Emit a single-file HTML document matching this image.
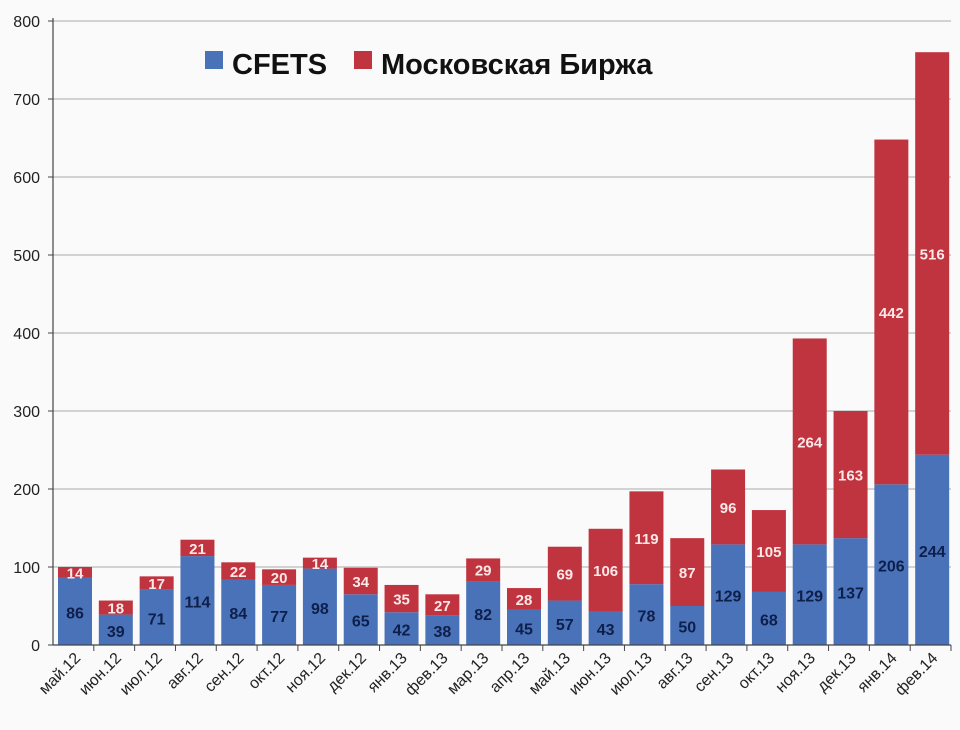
<!DOCTYPE html>
<html><head><meta charset="utf-8"><style>
html,body{margin:0;padding:0;background:#fff;}
svg{display:block;font-family:"Liberation Sans",sans-serif;}
</style></head><body>
<svg id="chart" width="960" height="730">
<rect x="0" y="0" width="960" height="730" fill="#fafafa"/>
<g id="grid"></g><g id="bars"></g><g id="axes"></g>
<g>
<rect x="205" y="51" width="18" height="18" fill="#4a72b8"/>
<text x="232" y="74" font-size="29" font-weight="bold" fill="#111">CFETS</text>
<rect x="354" y="51" width="18" height="18" fill="#c0343f"/>
<text x="381" y="74" font-size="29" font-weight="bold" fill="#111">Московская Биржа</text>
</g>
</svg>
<script>
const categories=["май.12","июн.12","июл.12","авг.12","сен.12","окт.12","ноя.12","дек.12","янв.13","фев.13","мар.13","апр.13","май.13","июн.13","июл.13","авг.13","сен.13","окт.13","ноя.13","дек.13","янв.14","фев.14"];
const cfets=[86,39,71,114,84,77,98,65,42,38,82,45,57,43,78,50,129,68,129,137,206,244];
const moex=[14,18,17,21,22,20,14,34,35,27,29,28,69,106,119,87,96,105,264,163,442,516];
const yTicks=[0,100,200,300,400,500,600,700,800];
const NS="http://www.w3.org/2000/svg";
const x0=53,x1=951,y0=645,yTop=21,yMax=800;
const step=(x1-x0)/categories.length,bw=34;
function y(v){return y0-(v/yMax)*(y0-yTop);}
function xb(i){return x0+i*step+5;}
function mk(t,a,p){const e=document.createElementNS(NS,t);for(const k in a)e.setAttribute(k,a[k]);p.appendChild(e);return e;}
const grid=document.getElementById('grid'),bars=document.getElementById('bars'),axes=document.getElementById('axes');
yTicks.forEach(v=>{
 if(v>0){const l=mk('line',{x1:x0,x2:x1,y1:y(v),y2:y(v),stroke:'#aaa','stroke-width':1},grid);
 
 }
 const t=mk('text',{x:40,y:y(v)+6,'text-anchor':'end','font-size':16,fill:'#222'},axes);
 t.textContent=v;
 
 
 const tk=mk('line',{x1:x0-5,x2:x0,y1:y(v),y2:y(v),stroke:'#444'},axes);
 
 
});
const ax=mk('line',{x1:x0,x2:x0,y1:yTop-3,y2:y0,stroke:'#444','stroke-width':1.2},axes);


const xa=mk('line',{x1:x0,x2:x1,y1:y0,y2:y0,stroke:'#444','stroke-width':1.2},axes);


categories.forEach((c,i)=>{
 const b=cfets[i],r=moex[i];
 const rb=mk('rect',{x:xb(i),y:y(b),width:bw,height:y0-y(b),fill:'#4a72b8'},bars);
 
 
 const rr=mk('rect',{x:xb(i),y:y(b+r),width:bw,height:y(b)-y(b+r),fill:'#c0343f'},bars);
 
 
 const lb=mk('text',{x:xb(i)+bw/2,y:(y(b)+y0)/2+7,'text-anchor':'middle','font-size':16,'font-weight':'bold',fill:'#0d1f4a'},bars);
 lb.textContent=b;
 
 
 const lr=mk('text',{x:xb(i)+bw/2,y:(y(b+r)+y(b))/2+6,'text-anchor':'middle','font-size':15,'font-weight':'bold',fill:'#fde8e8'},bars);
 lr.textContent=r;
 
 
 const tk=mk('line',{x1:x0+(i+1)*step,x2:x0+(i+1)*step,y1:y0,y2:y0+6,stroke:'#444'},axes);
 
 
 const cx=x0+(i+0.5)*step+8,cy=y0+14;
 const t=mk('text',{x:cx,y:cy,'text-anchor':'end','font-size':16,fill:'#222',transform:`rotate(-45 ${cx} ${cy})`},axes);
 t.textContent=c;
 
 
});
</script>
</body></html>
